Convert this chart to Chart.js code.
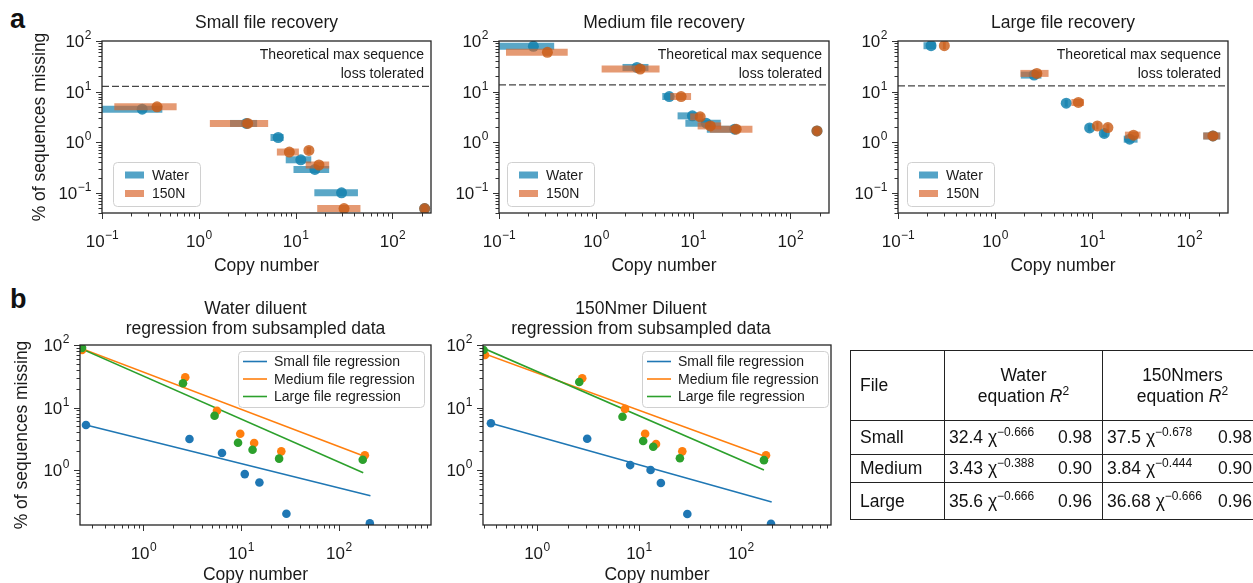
<!DOCTYPE html>
<html>
<head>
<meta charset="utf-8">
<script src="https://cdn.jsdelivr.net/npm/chart.js@4.4.0/dist/chart.umd.min.js"></script>
<style>
  body { margin: 0; background: #fff; font-family: "Liberation Sans", Arial, sans-serif; color: #111; }
  #page { position: relative; width: 1253px; height: 583px; overflow: hidden; }
  canvas { position: absolute; left: 0; top: 0; pointer-events: none; }
  .tag { position: absolute; font-weight: bold; font-size: 27px; line-height: 28px; }
  #fits { position: absolute; left: 850px; top: 350px; border-collapse: collapse; table-layout: fixed; width: 412px; font-size: 17.5px; }
  #fits td { border: 1px solid #222; padding: 0; }
  #fits td.name { padding-left: 9px; }
  #fits td.head { text-align: center; line-height: 21px; }
  #fits .fit { display: flex; justify-content: space-between; align-items: baseline; padding: 0 10px 0 4px; }
  #fits sup { font-size: 12px; vertical-align: 7px; line-height: 0; }
</style>
</head>
<body>
<div id="page">
  <div class="tag" style="left:10px; top:5px">a</div>
  <div class="tag" style="left:10px; top:285px">b</div>
  <canvas id="small" width="1253" height="583"></canvas>
  <canvas id="medium" width="1253" height="583"></canvas>
  <canvas id="large" width="1253" height="583"></canvas>
  <canvas id="water" width="1253" height="583"></canvas>
  <canvas id="nmer" width="1253" height="583"></canvas>
  <table id="fits"></table>
</div>
<script>
// ---- recovery data: copy number, copy number range, % of sequences missing ----
const smallWaterX = [0.26, 3.1, 6.6, 11.3, 15.8, 29.8, 215];
const smallWaterLo = [0.09, 2.1, 5.5, 7.9, 9.5, 15.6, 200];
const smallWaterHi = [0.42, 4.0, 7.5, 14.5, 22.2, 44, 230];
const smallWaterY = [4.5, 2.35, 1.24, 0.45, 0.29, 0.1, 0.049];
const smallNmerX = [0.37, 3.2, 8.6, 13.7, 17.4, 31.6, 215];
const smallNmerLo = [0.134, 1.3, 6.4, 13.0, 12.7, 16.7, 200];
const smallNmerHi = [0.59, 5.2, 10.8, 14.4, 22.2, 46.7, 230];
const smallNmerY = [5.0, 2.35, 0.64, 0.69, 0.355, 0.049, 0.049];

const mediumWaterX = [0.226, 2.63, 5.66, 9.8, 13.6, 26.7, 188];
const mediumWaterLo = [0.09, 1.87, 4.8, 6.9, 8.3, 13.8, 175];
const mediumWaterHi = [0.37, 3.46, 6.2, 11.1, 19.2, 30.4, 200];
const mediumWaterY = [78.5, 30, 8.0, 3.32, 2.38, 1.81, 1.67];
const mediumNmerX = [0.315, 2.84, 7.5, 11.8, 15.0, 27.7, 188];
const mediumNmerLo = [0.118, 1.14, 5.8, 9.3, 11.1, 14.9, 175];
const mediumNmerHi = [0.51, 4.5, 9.5, 12.7, 19.4, 40.7, 200];
const mediumNmerY = [59.7, 27.9, 8.0, 3.17, 2.1, 1.81, 1.67];

const largeWaterX = [0.219, 2.52, 5.4, 9.4, 13.3, 24.3, 175];
const largeWaterLo = [0.183, 1.84, 5.2, 9.0, 12.4, 21.1, 139];
const largeWaterHi = [0.245, 3.0, 5.6, 9.8, 14.2, 29.3, 208];
const largeWaterY = [80.7, 21.2, 5.9, 1.92, 1.49, 1.15, 1.33];
const largeNmerX = [0.30, 2.69, 7.2, 11.3, 14.5, 26.6, 175];
const largeNmerLo = [0.29, 1.82, 6.1, 11.0, 14.0, 21.7, 139];
const largeNmerHi = [0.31, 3.55, 8.2, 11.6, 15.0, 31.4, 208];
const largeNmerY = [80.7, 22.9, 6.1, 2.1, 1.95, 1.38, 1.33];

// max loss the code can tolerate, per file
const lossLimit = [12.7, 13.6, 13.0];

// ---- subsampled data and regression end points ----
const waterSmallX = [0.258, 2.96, 6.37, 10.9, 15.4, 29.1, 208];
const waterSmallY = [5.25, 3.13, 1.87, 0.86, 0.63, 0.2, 0.14];
const waterMediumX = [0.235, 2.68, 5.66, 9.8, 13.6, 25.8, 185];
const waterMediumY = [83, 30.4, 8.9, 3.81, 2.7, 1.99, 1.72];
const waterLargeX = [0.235, 2.54, 5.35, 9.3, 13.1, 24.5, 176];
const waterLargeY = [90, 24.4, 7.4, 2.73, 2.11, 1.52, 1.46];
const waterFitX = [[0.258, 211], [0.224, 180], [0.224, 178]];
const waterFitY = [[5.25, 0.388], [89.6, 1.67], [89, 0.906]];

const nmerSmallX = [0.354, 3.11, 8.2, 13, 16.4, 29.8, 197];
const nmerSmallY = [5.59, 3.17, 1.2, 1.0, 0.62, 0.198, 0.138];
const nmerMediumX = [0.31, 2.78, 7.3, 11.5, 14.7, 26.6, 176];
const nmerMediumY = [69, 29.3, 9.5, 3.8, 2.6, 1.99, 1.72];
const nmerLargeX = [0.30, 2.6, 6.9, 11, 13.8, 25.2, 168];
const nmerLargeY = [83, 25.6, 7.1, 2.91, 2.36, 1.54, 1.44];
const nmerFitX = [[0.354, 200], [0.296, 168], [0.296, 168]];
const nmerFitY = [[5.59, 0.307], [74, 1.67], [89.5, 1.0]];

const fitNames = ['Small file regression', 'Medium file regression', 'Large file regression'];

// ---- table of fitted equations ----
const fileNames = ['Small', 'Medium', 'Large'];
const waterCoef = ['32.4', '3.43', '35.6'];
const waterExp = ['\u22120.666', '\u22120.388', '\u22120.666'];
const waterR2 = ['0.98', '0.90', '0.96'];
const nmerCoef = ['37.5', '3.84', '36.68'];
const nmerExp = ['\u22120.678', '\u22120.444', '\u22120.666'];
const nmerR2 = ['0.98', '0.90', '0.96'];

const W = 1253, H = 583;
const FONT = '"Liberation Sans", Arial, sans-serif';
const INK = '#1a1a1a';

const blueBar = 'rgba(20,130,175,0.7)';
const bluePt = 'rgba(20,130,175,0.85)';
const orangeBar = 'rgba(215,100,40,0.65)';
const orangePt = 'rgba(200,90,20,0.8)';
const tab = ['#1f77b4', '#ff7f0e', '#2ca02c'];

function logValues(min, max) {
  const major = [], minor = [];
  for (let p = Math.floor(Math.log10(min)); p <= Math.ceil(Math.log10(max)); p++) {
    for (let k = 1; k < 10; k++) {
      const v = k * Math.pow(10, p);
      if (v < min * 0.999 || v > max * 1.001) continue;
      if (k === 1) major.push(p); else minor.push(v);
    }
  }
  return { major, minor };
}

// "10" with a raised exponent, anchored at x, vertically centred on y
function drawPow(ctx, p, x, y, align) {
  const base = '10', exp = p < 0 ? '\u2212' + (-p) : String(p);
  ctx.font = '17px ' + FONT;
  const bw = ctx.measureText(base).width;
  ctx.font = '12px ' + FONT;
  const ew = ctx.measureText(exp).width;
  let left = x;
  if (align === 'right') left = x - bw - ew;
  if (align === 'center') left = x - (bw + ew) / 2;
  ctx.textAlign = 'left';
  ctx.textBaseline = 'alphabetic';
  ctx.font = '17px ' + FONT;
  ctx.fillText(base, left, y + 6);
  ctx.font = '12px ' + FONT;
  ctx.fillText(exp, left + bw + 0.5, y - 2);
}

function decor(cfg) {
  return {
    id: 'decor',
    afterDraw(chart) {
      const { ctx, chartArea: a } = chart;
      const sx = chart.scales.x, sy = chart.scales.y;
      ctx.save();
      ctx.fillStyle = INK;

      // ticks and labels
      ctx.strokeStyle = '#333';
      ctx.lineWidth = 1;
      const xv = logValues(sx.min, sx.max), yv = logValues(sy.min, sy.max);
      ctx.beginPath();
      xv.minor.forEach((v) => {
        const px = Math.round(sx.getPixelForValue(v)) + 0.5;
        ctx.moveTo(px, a.bottom); ctx.lineTo(px, a.bottom + 3.5);
      });
      xv.major.forEach((p) => {
        const px = Math.round(sx.getPixelForValue(Math.pow(10, p))) + 0.5;
        ctx.moveTo(px, a.bottom); ctx.lineTo(px, a.bottom + 6);
      });
      yv.minor.forEach((v) => {
        const py = Math.round(sy.getPixelForValue(v)) + 0.5;
        ctx.moveTo(a.left, py); ctx.lineTo(a.left - 3.5, py);
      });
      yv.major.forEach((p) => {
        const py = Math.round(sy.getPixelForValue(Math.pow(10, p))) + 0.5;
        ctx.moveTo(a.left, py); ctx.lineTo(a.left - 6, py);
      });
      ctx.stroke();
      xv.major.forEach((p) => drawPow(ctx, p, sx.getPixelForValue(Math.pow(10, p)), a.bottom + 28, 'center'));
      yv.major.forEach((p) => drawPow(ctx, p, a.left - 11, sy.getPixelForValue(Math.pow(10, p)), 'right'));

      // frame
      ctx.strokeStyle = '#262626';
      ctx.lineWidth = 1.3;
      ctx.strokeRect(a.left, a.top, a.right - a.left, a.bottom - a.top);

      // titles and axis labels
      const cx = (a.left + a.right) / 2;
      ctx.font = '17.5px ' + FONT;
      ctx.textAlign = 'center';
      ctx.textBaseline = 'alphabetic';
      cfg.title.forEach((line, i) => ctx.fillText(line, cx + (cfg.titleShift || 0), cfg.titleY + i * 20));
      ctx.fillText('Copy number', cx, cfg.xLabelY);
      if (cfg.yLabelX) {
        ctx.save();
        ctx.translate(cfg.yLabelX, (a.top + a.bottom) / 2);
        ctx.rotate(-Math.PI / 2);
        ctx.textBaseline = 'middle';
        ctx.fillText('% of sequences missing', 0, 0);
        ctx.restore();
      }

      // note above the tolerance line
      if (cfg.note) {
        ctx.font = '14px ' + FONT;
        ctx.textAlign = 'right';
        ctx.fillText('Theoretical max sequence', a.right - 7, a.top + 18);
        ctx.fillText('loss tolerated', a.right - 7, a.top + 37);
      }

      // legend box
      const lg = cfg.legend;
      ctx.fillStyle = 'rgba(255,255,255,0.85)';
      ctx.strokeStyle = '#d0d0d0';
      ctx.lineWidth = 1;
      ctx.beginPath();
      ctx.roundRect(lg.x + 0.5, lg.y + 0.5, lg.w, lg.h, 4);
      ctx.fill();
      ctx.stroke();
      ctx.font = '14px ' + FONT;
      ctx.textAlign = 'left';
      ctx.textBaseline = 'middle';
      lg.items.forEach((it, i) => {
        const ry = lg.y + lg.first + i * lg.step;
        if (lg.patch) {
          ctx.fillStyle = it.color;
          ctx.fillRect(lg.x + 12, ry - 3.5, 19, 7);
        } else {
          ctx.strokeStyle = it.color;
          ctx.lineWidth = 1.6;
          ctx.beginPath();
          ctx.moveTo(lg.x + 5, ry); ctx.lineTo(lg.x + 29, ry);
          ctx.stroke();
        }
        ctx.fillStyle = INK;
        ctx.fillText(it.label, lg.x + lg.textDx, ry + 1);
      });
      ctx.restore();
    },
  };
}

function baseOptions(area, xr, yr) {
  return {
    responsive: false,
    animation: false,
    events: [],
    layout: { padding: { left: area.left, top: area.top, right: W - area.right, bottom: H - area.bottom } },
    scales: {
      x: {
        type: 'logarithmic', min: xr[0], max: xr[1],
        ticks: { display: false }, grid: { display: false }, border: { display: false },
        afterFit: (s) => { s.height = 0; },
      },
      y: {
        type: 'logarithmic', min: yr[0], max: yr[1],
        ticks: { display: false }, grid: { display: false }, border: { display: false },
        afterFit: (s) => { s.width = 0; },
      },
    },
    plugins: { legend: { display: false }, tooltip: { enabled: false } },
  };
}

function errorSets(xs, lo, hi, ys, barColor, ptColor) {
  const sets = xs.map((x, i) => ({
    data: [{ x: lo[i], y: ys[i] }, { x: hi[i], y: ys[i] }],
    showLine: true, borderColor: barColor, borderWidth: 7, borderCapStyle: 'butt',
    pointRadius: 0, clip: 0,
  }));
  sets.push({
    data: xs.map((x, i) => ({ x, y: ys[i] })),
    pointRadius: 5.5, backgroundColor: ptColor, borderWidth: 0, clip: 0,
  });
  return sets;
}

// top row: recovery with copy-number ranges
function recoveryChart(id, title, water, nmer, limit, area, legendX, withYLabel) {
  const xr = [0.1, 250];
  const sets = [
    {
      data: [{ x: xr[0], y: limit }, { x: xr[1], y: limit }],
      showLine: true, borderColor: '#444', borderWidth: 1.3, borderDash: [7, 3],
      pointRadius: 0, clip: 0,
    },
    ...errorSets(...water, blueBar, bluePt),
    ...errorSets(...nmer, orangeBar, orangePt),
  ];
  const cfg = {
    title: [title], titleY: 28, xLabelY: 271, yLabelX: withYLabel ? 40 : 0, note: true,
    legend: {
      x: legendX, y: 162, w: 87, h: 44, first: 13, step: 18.5, textDx: 39, patch: true,
      items: [{ label: 'Water', color: 'rgba(40,140,185,0.8)' }, { label: '150N', color: 'rgba(225,130,85,0.85)' }],
    },
  };
  new Chart(document.getElementById(id), {
    type: 'scatter',
    data: { datasets: sets.reverse() },
    options: baseOptions(area, xr, [0.04, 100]),
    plugins: [decor(cfg)],
  });
}

const topY = { top: 41, bottom: 213 };
recoveryChart('small', 'Small file recovery',
  [smallWaterX, smallWaterLo, smallWaterHi, smallWaterY],
  [smallNmerX, smallNmerLo, smallNmerHi, smallNmerY],
  lossLimit[0], { left: 102, right: 431, ...topY }, 113, true);
recoveryChart('medium', 'Medium file recovery',
  [mediumWaterX, mediumWaterLo, mediumWaterHi, mediumWaterY],
  [mediumNmerX, mediumNmerLo, mediumNmerHi, mediumNmerY],
  lossLimit[1], { left: 499, right: 829, ...topY }, 507, false);
recoveryChart('large', 'Large file recovery',
  [largeWaterX, largeWaterLo, largeWaterHi, largeWaterY],
  [largeNmerX, largeNmerLo, largeNmerHi, largeNmerY],
  lossLimit[2], { left: 898, right: 1228, ...topY }, 907, false);

// bottom row: power-law regressions on subsampled points
function regressionChart(id, title, pts, fitX, fitY, area, xr, legendX, titleShift, withYLabel) {
  const lines = fitX.map((fx, i) => ({
    data: [{ x: fx[0], y: fitY[i][0] }, { x: fx[1], y: fitY[i][1] }],
    showLine: true, borderColor: tab[i], borderWidth: 1.6, pointRadius: 0, clip: 0,
  }));
  const dots = pts.map(([xs, ys], i) => ({
    data: xs.map((x, j) => ({ x, y: ys[j] })),
    pointRadius: 4.3, backgroundColor: tab[i], borderWidth: 0, clip: 0,
  }));
  const cfg = {
    title: [title, 'regression from subsampled data'], titleY: 314, titleShift, xLabelY: 580,
    yLabelX: withYLabel ? 22 : 0, note: false,
    legend: {
      x: legendX, y: 351, w: 186, h: 56, first: 10.5, step: 17.5, textDx: 36, patch: false,
      items: fitNames.map((label, i) => ({ label, color: tab[i] })),
    },
  };
  new Chart(document.getElementById(id), {
    type: 'scatter',
    data: { datasets: [...lines, ...dots].reverse() },
    options: baseOptions(area, xr, [0.132, 100]),
    plugins: [decor(cfg)],
  });
}

const bottomY = { top: 345, bottom: 525 };
regressionChart('water', 'Water diluent',
  [[waterSmallX, waterSmallY], [waterMediumX, waterMediumY], [waterLargeX, waterLargeY]],
  waterFitX, waterFitY, { left: 80, right: 431, ...bottomY }, [0.224, 880], 238, 0, true);
regressionChart('nmer', '150Nmer Diluent',
  [[nmerSmallX, nmerSmallY], [nmerMediumX, nmerMediumY], [nmerLargeX, nmerLargeY]],
  nmerFitX, nmerFitY, { left: 483, right: 831, ...bottomY }, [0.296, 763], 642, -16, false);

// equation table
const table = document.getElementById('fits');
const rowHeights = [34, 28, 37];
let html = '<colgroup><col style="width:94px"><col style="width:158px"><col style="width:160px"></colgroup>';
html += '<tr style="height:70px"><td class="name">File</td>' +
  '<td class="head">Water<br>equation <i>R</i><sup>2</sup></td>' +
  '<td class="head">150Nmers<br>equation <i>R</i><sup>2</sup></td></tr>';
fileNames.forEach((name, i) => {
  html += `<tr style="height:${rowHeights[i]}px"><td class="name">${name}</td>` +
    `<td><div class="fit"><span>${waterCoef[i]} \u03c7<sup>${waterExp[i]}</sup></span><span>${waterR2[i]}</span></div></td>` +
    `<td><div class="fit"><span>${nmerCoef[i]} \u03c7<sup>${nmerExp[i]}</sup></span><span>${nmerR2[i]}</span></div></td></tr>`;
});
table.innerHTML = html;
</script>
</body>
</html>
